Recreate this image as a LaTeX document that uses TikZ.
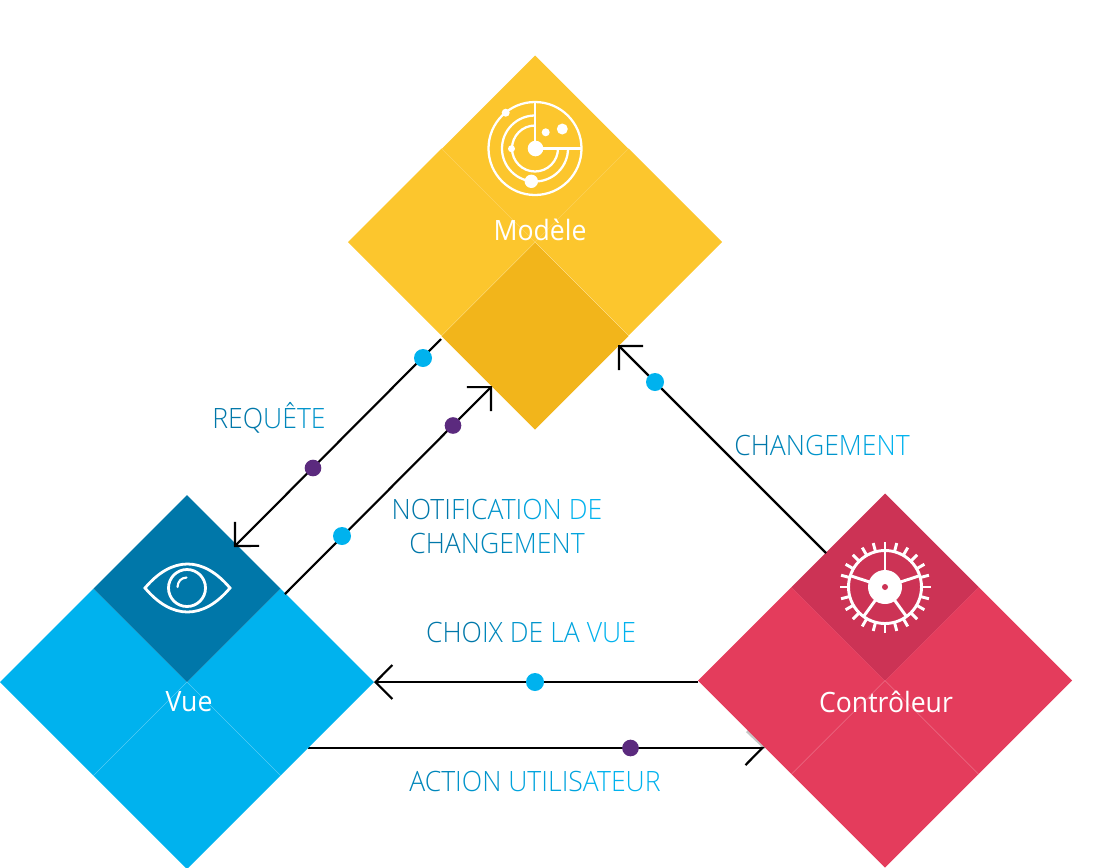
\documentclass[tikz,border=0pt]{standalone}
\usepackage{fontspec}
\setmainfont{DejaVu Sans}
\newfontfamily\tfont[FakeStretch=0.95]{Open Sans Light}
\newfontfamily\hfont[FakeStretch=0.95]{Open Sans}
\usetikzlibrary{shapes.geometric,arrows.meta}
\definecolor{ylw}{HTML}{FCC62D}
\definecolor{ylwd}{HTML}{F2B51B}
\definecolor{blu}{HTML}{00B2EE}
\definecolor{blud}{HTML}{0077A9}
\definecolor{rd}{HTML}{E43C5C}
\definecolor{rdd}{HTML}{CC3355}
\definecolor{purp}{HTML}{5B2A7E}
\colorlet{ga}{blud}
\colorlet{gb}{blu!25!blud}
\colorlet{gc}{blu!50!blud}
\colorlet{gd}{blu!75!blud}
\colorlet{ge}{blu}
\tikzset{
  big/.style={diamond,aspect=1,inner sep=0pt,outer sep=0pt,minimum width=280.5pt,minimum height=280.5pt},
  quad/.style={diamond,aspect=1,inner sep=0pt,outer sep=0pt,minimum width=140.25pt,minimum height=140.25pt,fill=#1},
  seam/.style={white,opacity=.2,line width=.5pt},
  conn/.style={black,line width=1.6pt,-{Straight Barb[length=12.7pt,width=25.5pt,line width=1.6pt]}},
  bdot/.style={circle,fill=blu,inner sep=0pt,minimum size=13.5pt},
  pdot/.style={circle,fill=purp,inner sep=0pt,minimum size=12.5pt},
  lab/.style={text=blud,font=\tfont\fontsize{21}{22}\selectfont,inner sep=0pt},
  title/.style={text=white,font=\hfont\fontsize{21}{22}\selectfont,inner sep=0pt},
  icon/.style={white,line width=1.7pt},
}
\begin{document}
\begin{tikzpicture}[x=0.75pt,y=-0.75pt]
\useasboundingbox (0,0) rectangle (1111,868);
% outline nodes
\node[big] (model) at (535,242) {};
\node[big] (vue) at (187,682) {};
\node[big] (ctrl) at (885,680.5) {};
\coordinate (actS) at (308,748);
\coordinate (actE) at (765,748);
\coordinate (actB) at (747,731);
% action connector runs under the red diamond
\draw[gray!45,line width=2.2pt] (actE) -- (actB);
\draw[black,line width=1.6pt,-{Straight Barb[harpoon,swap,length=12.7pt,width=25.5pt,line width=1.6pt]}] (actS) -- (actE);
% Modele
\node[quad=ylw] (m1) at (535,149) {};
\node[quad=ylw] (m2) at (441.5,242) {};
\node[quad=ylw] (m3) at (628.5,242) {};
\node[quad=ylwd] (m4) at (535,336) {};
\draw[seam] (model.north west) -- (model.center) -- (model.north east);
% Vue
\node[quad=blu] (v2) at (93.5,682) {};
\node[quad=blu] (v3) at (280.5,682) {};
\node[quad=blu] (v4) at (187,775.5) {};
\node[quad=blud] (v1) at (187,588.5) {};
\draw[seam] (vue.south west) -- (vue.center) -- (vue.south east);
% Controleur
\node[quad=rd] (c2) at (791.5,680.5) {};
\node[quad=rd] (c3) at (978.5,680.5) {};
\node[quad=rd] (c4) at (885,774) {};
\node[quad=rdd] (c1) at (885,587) {};
\draw[seam] (ctrl.south west) -- (ctrl.center) -- (ctrl.south east);
% radar icon
\begin{scope}[icon]
  \draw (535,148.5) circle[radius=46.5];
  \draw (535,102) -- (535,148.5) -- (581.5,148.5);
  \draw (535,115.5) arc[start angle=270,end angle=0,radius=33];
  \draw (535,125.5) arc[start angle=270,end angle=0,radius=23];
  \fill (535.5,148.5) circle[radius=7.8];
  \fill (505.7,112.7) circle[radius=4];
  \fill (545.7,132.3) circle[radius=4];
  \fill (562.3,129) circle[radius=5.5];
  \fill (511.5,148.7) circle[radius=3.5];
  \fill (531.3,181.3) circle[radius=6.7];
\end{scope}
% eye icon
\begin{scope}[icon,line width=2.1pt]
  \draw[line join=miter] (145,588) .. controls (172,556) and (203,556) .. (230,588) .. controls (203,620) and (172,620) .. (145,588) -- cycle;
  \draw (187,588) circle[radius=18.5];
  \draw[line width=1.6pt,line cap=round] (177.5,587) .. controls (178,581) and (181,578) .. (186.5,577.5);
\end{scope}
% gear icon
\begin{scope}[shift={(885,587)}]
  \draw[white,line width=2.2pt] (0,0) circle[radius=36.5];
  \foreach \a in {0,15,...,345} \draw[white,line width=2.2pt] (\a:36) -- (\a:45.5);
  \foreach \a in {90,162,234,306,18} \draw[white,line width=2.2pt] (0,0) -- ({cos(\a)*36.5},{-sin(\a)*36.5});
  \fill[white] (0,0) circle[radius=17];
  \fill[rdd] (0,0) circle[radius=3];
\end{scope}
% connectors
\coordinate (reqS) at (441,339);
\coordinate (reqE) at (234,547);
\coordinate (notS) at (285,594);
\coordinate (notE) at (492,386);
\coordinate (chgS) at (826,553);
\coordinate (chgE) at (618,345);
\draw[conn] (reqS) -- (reqE);
\draw[conn] (notS) -- (notE);
\draw[conn] (chgS) -- (chgE);
\draw[conn] (ctrl.west |- vue.east) -- (vue.east);
% dots
\node[bdot] (d1) at (423,358) {};
\node[pdot] (d2) at (313,468) {};
\node[pdot] (d3) at (453,425.5) {};
\node[bdot] (d4) at (342,536) {};
\node[bdot] (d5) at (655,382) {};
\node[bdot] (d6) at (535,682) {};
\node[pdot] (d7) at (630.5,748) {};
% titles
\node[title] (t1) at (540,230) {Modèle};
\node[title] (t2) at (189,702) {Vue};
\node[title] (t3) at (886,702) {Contrôleur};
% labels
\node[lab] (l1) at (269,418) {\textcolor{ga}{REQ}\textcolor{gb}{UÊ}\textcolor{gc}{TE}};
\node[lab] (l2) at (822,445) {\textcolor{ga}{CH}\textcolor{gb}{AN}\textcolor{gc}{GE}\textcolor{gd}{ME}\textcolor{ge}{NT}};
\node[lab] (l3) at (497,509) {\textcolor{ga}{NOTI}\textcolor{gb}{FIC}\textcolor{gc}{ATI}\textcolor{gd}{ON} \textcolor{ge}{DE}};
\node[lab] (l4) at (497,543) {\textcolor{ga}{CHA}\textcolor{gb}{NGE}\textcolor{gc}{MEN}\textcolor{gd}{T}};
\node[lab] (l5) at (531,632) {\textcolor{ga}{CHO}\textcolor{gb}{IX} \textcolor{gc}{DE} \textcolor{gd}{LA} \textcolor{ge}{VUE}};
\node[lab] (l6) at (535,781) {\textcolor{gb}{ACT}\textcolor{gc}{ION} \textcolor{gd}{UTILIS}\textcolor{ge}{ATEUR}};
\end{tikzpicture}
\end{document}
